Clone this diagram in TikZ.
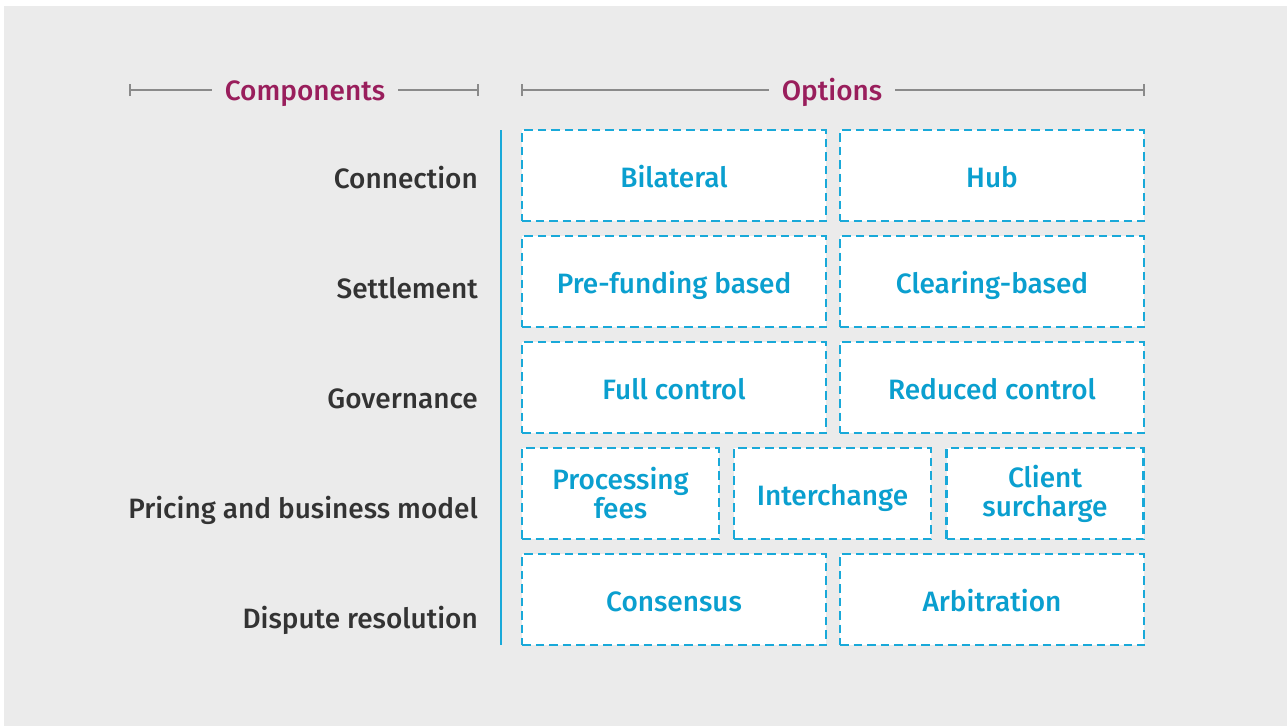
\documentclass[tikz,border=0pt]{standalone}
\usepackage{fontspec}
\setmainfont{Fira Sans}[UprightFont=* Medium]
\definecolor{bg}{HTML}{EBEBEB}
\definecolor{magen}{HTML}{991E5C}
\definecolor{lbl}{HTML}{333333}
\definecolor{cytext}{HTML}{0A9FCF}
\definecolor{cyline}{HTML}{19A9D9}
\definecolor{rule}{HTML}{8A8A8A}
\tikzset{
  opt/.style={draw=cyline, fill=white, line width=2.7pt, dash pattern=on 8.5pt off 5pt,
    text=cytext, font=\fontsize{28}{29}\selectfont, align=center, inner sep=0pt,
    minimum height=91pt},
  one/.style={text height=24pt, text depth=0pt},
  wide/.style={opt, minimum width=304pt},
  narrow/.style={opt, minimum width=197pt},
  comp/.style={anchor=east, inner sep=0pt, text=lbl, font=\fontsize{28}{34}\selectfont,
    text height=20pt, text depth=0pt},
  head/.style={fill=bg, inner xsep=13pt, inner ysep=2pt, text=magen, font=\fontsize{28}{34}\selectfont,
    text height=20pt, text depth=0pt},
  rulel/.style={draw=rule, line width=2.6pt},
}
\begin{document}
\begin{tikzpicture}[x=1pt,y=-1pt]
\useasboundingbox (0,0) rectangle (1287,726);
\fill[white] (0,0) rectangle (1287,726);
\fill[bg] (4,6) rectangle (1287,726);
% headers
\coordinate (cl) at (130,90);
\coordinate (cr) at (478,90);
\coordinate (ol) at (522,90);
\coordinate (or) at (1144,90);
\draw[rulel] (cl) -- (cr);
\draw[rulel] ([yshift=-6pt]cl) -- ([yshift=6pt]cl);
\draw[rulel] ([yshift=-6pt]cr) -- ([yshift=6pt]cr);
\node[head] (hc) at (305,90) {Components};
\draw[rulel] (ol) -- (or);
\draw[rulel] ([yshift=-6pt]ol) -- ([yshift=6pt]ol);
\draw[rulel] ([yshift=-6pt]or) -- ([yshift=6pt]or);
\node[head] (ho) at (832,90) {Options};
% vertical divider
\coordinate (vt) at (501,130);
\coordinate (vb) at (501,645);
\draw[draw=cyline, line width=2.6pt] (vt) -- (vb);
% component labels
\node[comp] (l1) at (478,178) {Connection};
\node[comp] (l2) at (478,288) {Settlement};
\node[comp] (l3) at (478,398) {Governance};
\node[comp] (l4) at (478,508) {Pricing and business model};
\node[comp] (l5) at (478,618) {Dispute resolution};
% option boxes
\node[wide, one] (o11) at (674,175.5) {Bilateral};
\node[wide, one] (o12) at (992,175.5) {Hub};
\node[wide, one] (o21) at (674,281.5) {Pre-funding based};
\node[wide, one] (o22) at (992,281.5) {Clearing-based};
\node[wide, one] (o31) at (674,387.5) {Full control};
\node[wide, one] (o32) at (992,387.5) {Reduced control};
\node[narrow] (o41) at (620.5,493.5) {\raisebox{-2pt}{Processing}\\\raisebox{-2pt}{fees}};
\node[narrow, one] (o42) at (832.5,493.5) {Interchange};
\node[narrow] (o43) at (1045,493.5) {\raisebox{-2pt}{Client}\\\raisebox{-2pt}{surcharge}};
\node[wide, one] (o51) at (674,599.5) {Consensus};
\node[wide, one] (o52) at (992,599.5) {Arbitration};
\end{tikzpicture}
\end{document}
